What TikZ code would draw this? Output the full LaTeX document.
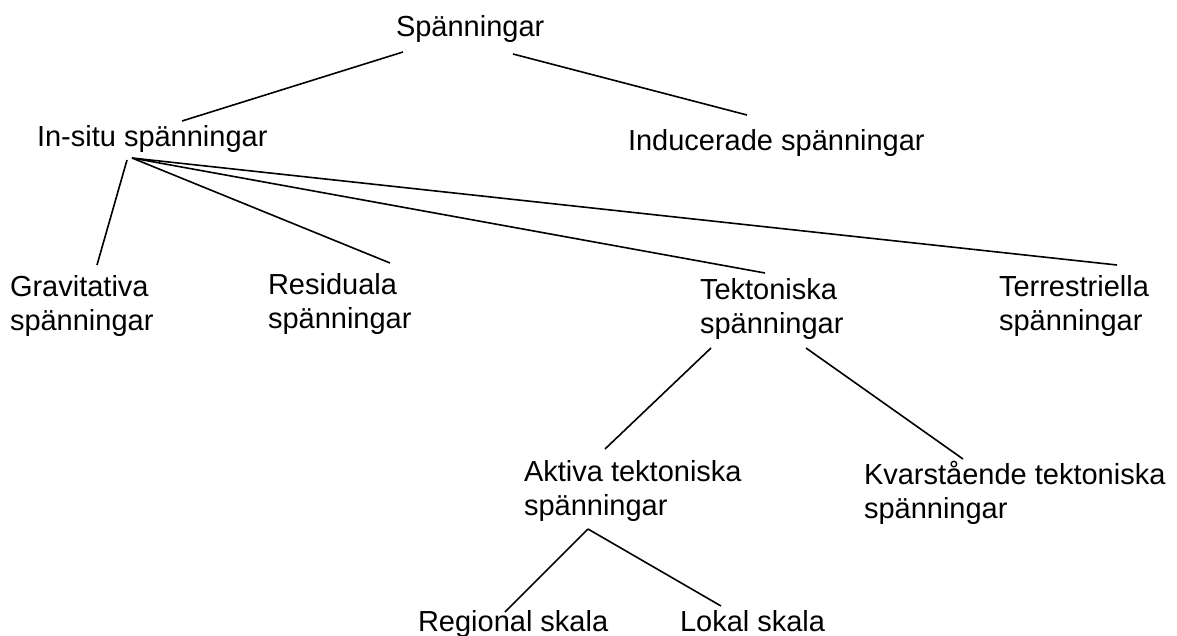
\documentclass[tikz,border=0pt]{standalone}
\usepackage{fontspec}
\setmainfont{Liberation Sans}
\begin{document}
\begin{tikzpicture}[x=1pt,y=-1pt,
  lbl/.style={anchor=base west, inner sep=0pt, outer sep=0pt, align=left, font=\fontsize{29}{33.3}\selectfont},
  conn/.style={line width=1.6pt, line cap=butt}]
\useasboundingbox[fill=white] (0,0) rectangle (1177,635);
% nodes (base west = baseline of the last line)
\node[lbl] (root) at (396,36) {Spänningar};
\node[lbl] (insitu) at (37,146) {In-situ spänningar};
\node[lbl] (induc) at (628,150) {Inducerade spänningar};
\node[lbl] (grav) at (10,330) {Gravitativa\\spänningar};
\node[lbl] (resid) at (268,328) {Residuala\\spänningar};
\node[lbl] (tekt) at (700,333) {Tektoniska\\spänningar};
\node[lbl] (terr) at (999,330) {Terrestriella\\spänningar};
\node[lbl] (aktiva) at (524,515) {Aktiva tektoniska\\spänningar};
\node[lbl] (kvar) at (864,518) {Kvarstående tektoniska\\spänningar};
\node[lbl] (regional) at (418,631) {Regional skala};
\node[lbl] (lokal) at (680,631) {Lokal skala};
% connector end points
\coordinate (rootL) at (403,52);
\coordinate (rootR) at (513,54);
\coordinate (insituT) at (182,121);
\coordinate (inducT) at (747,115);
\coordinate (insituG) at (127,160);
\coordinate (insituB) at (132,158);
\coordinate (gravT) at (97,265);
\coordinate (residT) at (390,263);
\coordinate (tektT) at (765,273);
\coordinate (terrT) at (1117,265);
\coordinate (tektBL) at (711,348);
\coordinate (tektBR) at (806,348);
\coordinate (aktivaT) at (605,449);
\coordinate (kvarT) at (963,459);
\coordinate (aktivaB) at (588,529);
\coordinate (regionalT) at (505,612);
\coordinate (lokalT) at (721,606);
% connectors
\draw[conn] (rootL) -- (insituT);
\draw[conn] (rootR) -- (inducT);
\draw[conn] (insituG) -- (gravT);
\draw[conn] (insituB) -- (residT);
\draw[conn] (insituB) -- (tektT);
\draw[conn] (insituB) -- (terrT);
\draw[conn] (tektBL) -- (aktivaT);
\draw[conn] (tektBR) -- (kvarT);
\draw[conn] (aktivaB) -- (regionalT);
\draw[conn] (aktivaB) -- (lokalT);
\end{tikzpicture}
\end{document}
